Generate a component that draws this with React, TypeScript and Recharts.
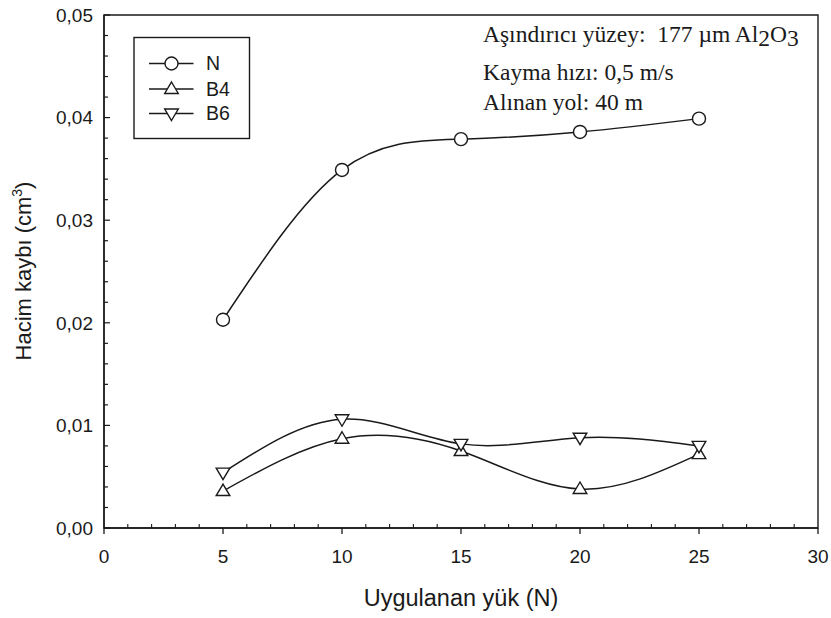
import { LineChart, Line, XAxis, YAxis, ReferenceArea } from 'recharts';

// Uygulanan yük (N)
const loads = [5, 10, 15, 20, 25];
// Hacim kaybı (cm3)
const seriesN = [0.0203, 0.0349, 0.0379, 0.0386, 0.0399];
const seriesB4 = [0.0036, 0.0087, 0.0075, 0.0038, 0.0072];
const seriesB6 = [0.0054, 0.0106, 0.0082, 0.0088, 0.008];

const xTicks = [0, 1, 2, 3, 4, 5, 6, 7, 8, 9, 10, 11, 12, 13, 14, 15, 16, 17, 18, 19, 20, 21, 22, 23, 24, 25, 26, 27, 28, 29, 30];
const yTicks = [
  0, 0.002, 0.004, 0.006, 0.008, 0.01, 0.012, 0.014, 0.016, 0.018, 0.02, 0.022, 0.024, 0.026, 0.028,
  0.03, 0.032, 0.034, 0.036, 0.038, 0.04, 0.042, 0.044, 0.046, 0.048, 0.05,
];
const yLabels = ['0,00', '0,01', '0,02', '0,03', '0,04', '0,05'];

const data = loads.map((x, i) => ({ x, N: seriesN[i], B4: seriesB4[i], B6: seriesB6[i] }));

const INK = '#1a1a1a';
const SANS = '"Liberation Sans", Arial, sans-serif';
const SERIF = '"Liberation Serif", "Times New Roman", serif';

function XTick(props: any) {
  const { x, y, payload } = props;
  const v = payload.value;
  const major = v % 5 === 0;
  return (
    <g>
      {major ? (
        <line x1={x} y1={y} x2={x} y2={y + 6} stroke={INK} strokeWidth={1.3} />
      ) : (
        <line x1={x} y1={y} x2={x} y2={y - 4} stroke={INK} strokeWidth={1.1} />
      )}
      {major && (
        <text x={x} y={y + 35} textAnchor="middle" fontSize={19} fontFamily={SANS} fill={INK}>
          {v}
        </text>
      )}
    </g>
  );
}

function YTick(props: any) {
  const { x, y, payload } = props;
  const step = Math.round(payload.value * 500);
  const major = step % 5 === 0;
  return (
    <g>
      <line x1={x} y1={y} x2={x + (major ? 6 : 4)} y2={y} stroke={INK} strokeWidth={1.2} />
      {major && (
        <text x={x - 11} y={y + 6.7} textAnchor="end" fontSize={19} fontFamily={SANS} fill={INK}>
          {yLabels[step / 5]}
        </text>
      )}
    </g>
  );
}

const circleDot = (p: any) => (
  <circle key={'n' + p.index} cx={p.cx} cy={p.cy} r={6.5} fill="#fff" stroke={INK} strokeWidth={1.4} />
);
const upDot = (p: any) => (
  <path
    key={'u' + p.index}
    d={`M${p.cx},${p.cy - 7} L${p.cx + 6.8},${p.cy + 4.5} L${p.cx - 6.8},${p.cy + 4.5} Z`}
    fill="#fff"
    stroke={INK}
    strokeWidth={1.4}
  />
);
const downDot = (p: any) => (
  <path
    key={'d' + p.index}
    d={`M${p.cx},${p.cy + 7} L${p.cx + 6.8},${p.cy - 4.5} L${p.cx - 6.8},${p.cy - 4.5} Z`}
    fill="#fff"
    stroke={INK}
    strokeWidth={1.4}
  />
);

const legendRows = [
  { name: 'N', y: 63.5, shape: 'circle' },
  { name: 'B4', y: 89, shape: 'up' },
  { name: 'B6', y: 113.5, shape: 'down' },
];

function Overlay() {
  return (
    <svg width={831} height={618} style={{ position: 'absolute', left: 0, top: 0, pointerEvents: 'none' }}>
      <rect x={134} y={37.5} width={115.5} height={101} fill="#fff" stroke={INK} strokeWidth={1.4} />
      {legendRows.map((r) => (
        <g key={r.name}>
          <line x1={149} y1={r.y} x2={193.5} y2={r.y} stroke={INK} strokeWidth={1.4} />
          {r.shape === 'circle' && circleDot({ cx: 171.5, cy: r.y, index: 'l' })}
          {r.shape === 'up' && upDot({ cx: 171.5, cy: r.y, index: 'l' })}
          {r.shape === 'down' && downDot({ cx: 171.5, cy: r.y, index: 'l' })}
          <text x={206} y={r.y + 6.5} fontSize={19.5} fontFamily={SANS} fill={INK}>
            {r.name}
          </text>
        </g>
      ))}
      <g fontFamily={SERIF} fontSize={23.5} fill={INK}>
        <text x={483} y={42} xmlSpace="preserve">
          {'Aşındırıcı yüzey:  177 µm Al'}
          <tspan dy={4}>2</tspan>
          <tspan dy={-4}>O</tspan>
          <tspan dy={4}>3</tspan>
        </text>
        <text x={483} y={80}>Kayma hızı: 0,5 m/s</text>
        <text x={483} y={110}>Alınan yol: 40 m</text>
      </g>
      <text x={461} y={606} textAnchor="middle" fontSize={23.5} fontFamily={SANS} fill={INK}>
        Uygulanan yük (N)
      </text>
      <text
        transform="translate(31,271) rotate(-90)"
        textAnchor="middle"
        fontSize={22}
        fontFamily={SANS}
        fill={INK}
      >
        Hacim kaybı (cm
        <tspan dy={-9} fontSize={14}>3</tspan>
        <tspan dy={9}>)</tspan>
      </text>
    </svg>
  );
}

export default function App() {
  return (
    <div style={{ position: 'absolute', left: 0, top: 0, width: 831, height: 618, background: '#fff' }}>
      <LineChart width={831} height={618} data={data} margin={{ top: 15, right: 13, bottom: 0, left: 0 }}>
        <ReferenceArea x1={0} x2={30} y1={0} y2={0.05} fill="none" stroke={INK} strokeWidth={1.4} ifOverflow="visible" />
        <XAxis
          dataKey="x"
          type="number"
          domain={[0, 30]}
          ticks={xTicks}
          interval={0}
          height={90}
          tickSize={0}
          tickMargin={0}
          tickLine={false}
          axisLine={{ stroke: INK, strokeWidth: 1.4 }}
          tick={<XTick />}
        />
        <YAxis
          type="number"
          domain={[0, 0.05]}
          ticks={yTicks}
          interval={0}
          width={104}
          tickSize={0}
          tickMargin={0}
          tickLine={false}
          axisLine={{ stroke: INK, strokeWidth: 1.4 }}
          tick={<YTick />}
        />
        <Line type="natural" dataKey="N" stroke={INK} strokeWidth={1.5} dot={circleDot} isAnimationActive={false} />
        <Line type="natural" dataKey="B4" stroke={INK} strokeWidth={1.5} dot={upDot} isAnimationActive={false} />
        <Line type="natural" dataKey="B6" stroke={INK} strokeWidth={1.5} dot={downDot} isAnimationActive={false} />
      </LineChart>
      <Overlay />
    </div>
  );
}
